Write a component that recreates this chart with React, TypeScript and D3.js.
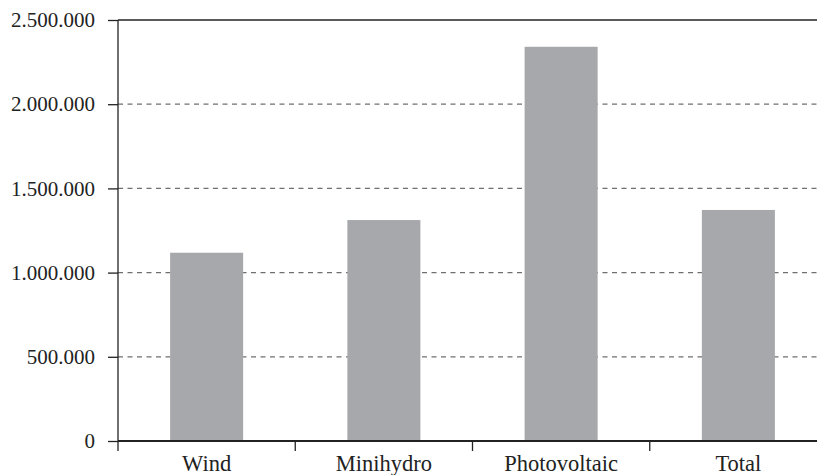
import * as d3 from "d3";
import React, { useEffect, useRef } from "react";

const categories = ["Wind", "Minihydro", "Photovoltaic", "Total"];
const values = [1118000, 1312000, 2341000, 1372000];
const yTicks = [0, 500000, 1000000, 1500000, 2000000, 2500000];

const width = 817;
const height = 475;
const margin = { left: 118, right: -10, top: 20, bottom: 34 };
const fontFamily = "'Liberation Serif', 'Times New Roman', serif";

const fmt = (v: number) => d3.format(",")(v).replace(/,/g, ".");

export default function App() {
  const gRef = useRef<SVGGElement>(null);

  useEffect(() => {
    const innerWidth = width - margin.left - margin.right;
    const innerHeight = height - margin.top - margin.bottom;

    const x = d3.scaleBand<string>().domain(categories).range([0, innerWidth]).padding(0);
    const y = d3.scaleLinear().domain([0, 2500000]).range([innerHeight, 0]);

    const g = d3.select(gRef.current);
    g.selectAll("*").remove();
    g.attr("transform", `translate(${margin.left},${margin.top})`);

    // dashed gridlines
    g.append("g")
      .selectAll("line")
      .data(yTicks.filter((t) => t > 0 && t < 2500000))
      .join("line")
      .attr("x1", 0)
      .attr("x2", innerWidth)
      .attr("y1", (d) => y(d))
      .attr("y2", (d) => y(d))
      .attr("stroke", "#6f6f6f")
      .attr("stroke-width", 1.2)
      .attr("stroke-dasharray", "5,4.5");

    // top frame line
    g.append("line")
      .attr("x1", 0)
      .attr("x2", innerWidth)
      .attr("y1", y(2500000))
      .attr("y2", y(2500000))
      .attr("stroke", "#222")
      .attr("stroke-width", 1.3);

    // bars
    const barW = x.bandwidth() * 0.412;
    g.append("g")
      .selectAll("rect")
      .data(values)
      .join("rect")
      .attr("x", (_, i) => (x(categories[i]) as number) + (x.bandwidth() - barW) / 2)
      .attr("y", (d) => y(d))
      .attr("width", barW)
      .attr("height", (d) => innerHeight - y(d))
      .attr("fill", "#a7a8ab");

    // y axis
    const yAxis = d3
      .axisLeft(y)
      .tickValues(yTicks)
      .tickSize(10)
      .tickPadding(13)
      .tickFormat((d) => fmt(d as number));
    const yG = g.append("g").call(yAxis);
    yG.select(".domain").remove();
    yG.selectAll(".tick line").attr("stroke", "#222").attr("stroke-width", 1.3);
    yG.selectAll(".tick text")
      .attr("fill", "#222")
      .style("font-family", fontFamily)
      .style("font-size", "21px");
    yG.append("line")
      .attr("x1", 0)
      .attr("x2", 0)
      .attr("y1", 0)
      .attr("y2", innerHeight + 10)
      .attr("stroke", "#222")
      .attr("stroke-width", 1.3);

    // x axis
    const xG = g.append("g").attr("transform", `translate(0,${innerHeight})`);
    xG.append("line")
      .attr("x1", 0)
      .attr("x2", innerWidth)
      .attr("y1", 0)
      .attr("y2", 0)
      .attr("stroke", "#222")
      .attr("stroke-width", 2);
    xG.selectAll("line.sep")
      .data(categories.slice(1))
      .join("line")
      .attr("class", "sep")
      .attr("x1", (d) => x(d) as number)
      .attr("x2", (d) => x(d) as number)
      .attr("y1", 0)
      .attr("y2", 10)
      .attr("stroke", "#222")
      .attr("stroke-width", 1.3);
    xG.selectAll("text")
      .data(categories)
      .join("text")
      .attr("x", (d) => (x(d) as number) + x.bandwidth() / 2)
      .attr("y", 29.5)
      .attr("text-anchor", "middle")
      .attr("fill", "#222")
      .style("font-family", fontFamily)
      .style("font-size", "22.5px")
      .text((d) => d);
  }, []);

  return (
    <svg
      width={width}
      height={height}
      style={{ position: "absolute", left: 0, top: 0, background: "#fff" }}
    >
      <g ref={gRef} />
    </svg>
  );
}
